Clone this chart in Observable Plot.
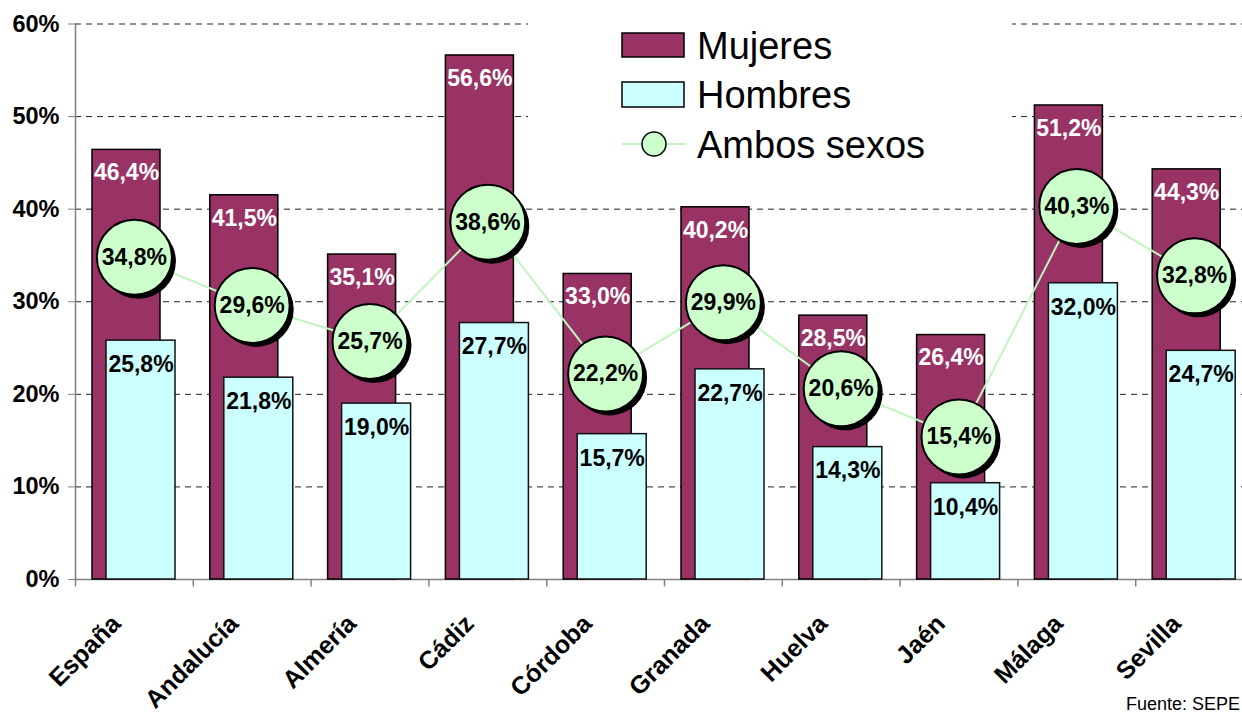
<!DOCTYPE html>
<html>
<head>
<meta charset="utf-8">
<script src="https://cdn.jsdelivr.net/npm/d3@7"></script>
<script src="https://cdn.jsdelivr.net/npm/@observablehq/plot@0.6"></script>
<style>
  html, body { margin: 0; padding: 0; background: #fff; overflow: hidden; }
  #chart svg { display: block; font-family: "Liberation Sans", Arial, sans-serif; }
</style>
</head>
<body>
<div id="chart"></div>
<script>
const categories = ["España", "Andalucía", "Almería", "Cádiz", "Córdoba", "Granada", "Huelva", "Jaén", "Málaga", "Sevilla"];
const mujeres = [46.4, 41.5, 35.1, 56.6, 33.0, 40.2, 28.5, 26.4, 51.2, 44.3];
const hombres = [25.8, 21.8, 19.0, 27.7, 15.7, 22.7, 14.3, 10.4, 32.0, 24.7];
const ambos = [34.8, 29.6, 25.7, 38.6, 22.2, 29.9, 20.6, 15.4, 40.3, 32.8];
const yTicks = [0, 10, 20, 30, 40, 50, 60];
const seriesNames = ["Mujeres", "Hombres", "Ambos sexos"];
const source = "Fuente: SEPE";

const W = 1242, H = 713;
const xRange = [75, 1253];
const bw = (xRange[1] - xRange[0]) / categories.length;
const fmt = v => v.toFixed(1).replace(".", ",") + "%";

const rows = categories.map((c, i) => ({cat: c, m: mujeres[i], h: hombres[i], a: ambos[i]}));

const cMuj = "#993366", cHom = "#CCFFFF", cAmb = "#CCFFCC";
const FONT = "'Liberation Sans', Arial, sans-serif";

const chart = Plot.plot({
  width: W,
  height: H,
  marginLeft: 75,
  marginRight: 0,
  marginTop: 23.5,
  marginBottom: 134,
  style: {fontFamily: FONT, background: "#fff"},
  x: {domain: categories, range: xRange, padding: 0, round: false, label: null},
  y: {domain: [0, 60], label: null},
  marks: [
    Plot.ruleY(yTicks.filter(d => d > 0), {stroke: "#222", strokeWidth: 1, strokeDasharray: "6,5"}),
    Plot.frame({anchor: "left", stroke: "#808080", strokeWidth: 1.5}),
    Plot.frame({anchor: "bottom", stroke: "#808080", strokeWidth: 1.5}),
    Plot.ruleX(categories, {x: d => d, y1: 0, y2: -0.8, dx: -bw / 2, stroke: "#808080", strokeWidth: 1.5}),
    Plot.axisY({ticks: yTicks, tickFormat: d => d + "%", tickSize: 7, tickPadding: 9, stroke: "#808080",
      fontSize: 23.5, fontWeight: "bold", fill: "#000"}),
    Plot.axisX({tickSize: 0, tickRotate: -45, tickPadding: 40, dx: -18, fontSize: 25, fontWeight: "bold", fill: "#000"}),
    Plot.barY(rows, {x: "cat", y: "m", fill: cMuj, stroke: "#000", strokeWidth: 1.5, insetLeft: 17, insetRight: bw - 85}),
    Plot.barY(rows, {x: "cat", y: "h", fill: cHom, stroke: "#111", strokeWidth: 1.5, insetLeft: 31, insetRight: bw - 100}),
    Plot.text(rows, {x: "cat", y: "m", text: d => fmt(d.m), dx: (17 + 85) / 2 - bw / 2, dy: 23, fill: "#fff",
      fontSize: 23, fontWeight: "bold"}),
    Plot.text(rows, {x: "cat", y: "h", text: d => fmt(d.h), dx: (31 + 100) / 2 - bw / 2, dy: 24, fill: "#000",
      fontSize: 23, fontWeight: "bold"}),
    Plot.line(rows, {x: "cat", y: "a", stroke: "#C0F5C0", strokeWidth: 2}),
    Plot.dot(rows, {x: "cat", y: "a", r: 37.5, fill: "#000", stroke: "none", dx: 4, dy: 4}),
    Plot.dot(rows, {x: "cat", y: "a", r: 37.5, fill: cAmb, stroke: "#000", strokeWidth: 2}),
    Plot.text(rows, {x: "cat", y: "a", text: d => fmt(d.a), fill: "#000", fontSize: 23, fontWeight: "bold"})
  ]
});

const svg = d3.select(chart);
// legend
const lg = svg.append("g").attr("class", "legend").attr("text-anchor", "start");
lg.append("rect").attr("x", 528).attr("y", 15).attr("width", 484).attr("height", 165).attr("fill", "#fff");
const lx = 622, lw = 62;
const rowsY = [45, 94.5, 144];
lg.append("rect").attr("x", lx).attr("y", 33).attr("width", lw).attr("height", 24)
  .attr("fill", cMuj).attr("stroke", "#000").attr("stroke-width", 1.5);
lg.append("rect").attr("x", lx).attr("y", 82).attr("width", lw).attr("height", 25)
  .attr("fill", cHom).attr("stroke", "#000").attr("stroke-width", 1.5);
lg.append("line").attr("x1", lx).attr("x2", lx + lw + 2).attr("y1", rowsY[2]).attr("y2", rowsY[2])
  .attr("stroke", "#C0F5C0").attr("stroke-width", 2);
lg.append("circle").attr("cx", lx + 32).attr("cy", rowsY[2]).attr("r", 12)
  .attr("fill", cAmb).attr("stroke", "#000").attr("stroke-width", 1.5);
seriesNames.forEach((s, i) => {
  lg.append("text").attr("x", 697).attr("y", rowsY[i]).attr("dy", "0.36em")
    .attr("font-size", 38).attr("fill", "#000").attr("text-anchor", "start")
    .attr("font-family", FONT).text(s);
});
svg.append("text").attr("x", 1240).attr("y", 710).attr("font-size", 18).attr("fill", "#000")
  .attr("text-anchor", "end").attr("font-family", FONT).text(source);

document.getElementById("chart").appendChild(chart);
</script>
</body>
</html>
